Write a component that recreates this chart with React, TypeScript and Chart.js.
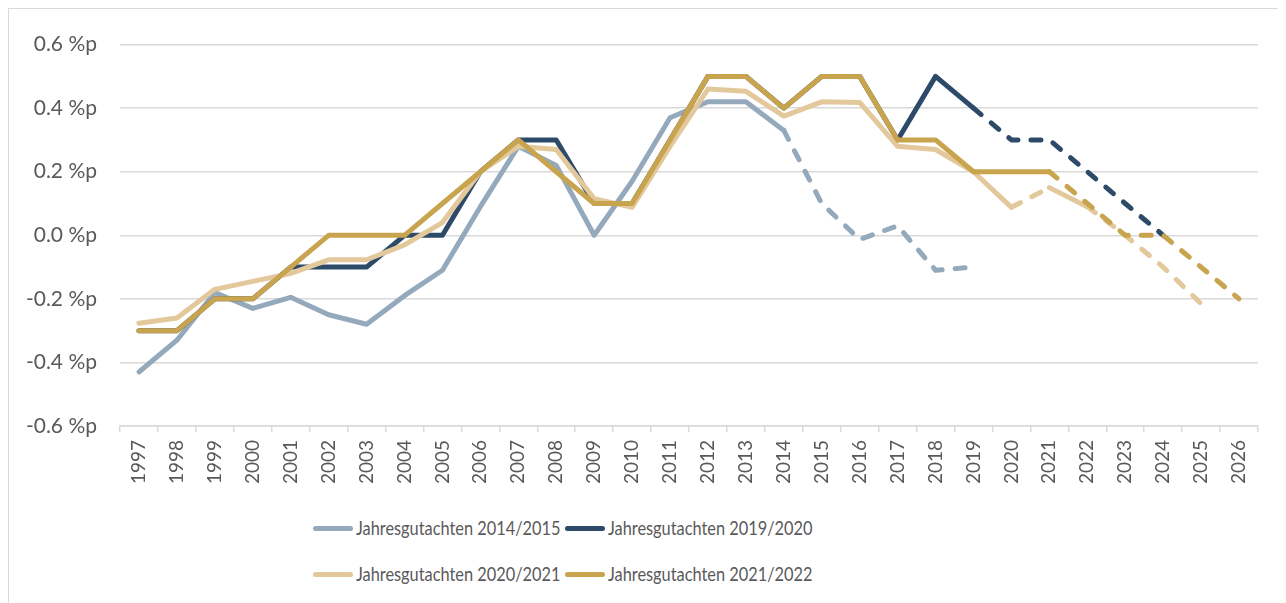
import React, { useEffect, useRef } from "react";
import { Chart, registerables } from "chart.js";

Chart.register(...registerables);

const years = [
  "1997","1998","1999","2000","2001","2002","2003","2004","2005","2006",
  "2007","2008","2009","2010","2011","2012","2013","2014","2015","2016",
  "2017","2018","2019","2020","2021","2022","2023","2024","2025","2026",
];

const jg2014 = [
  -0.43, -0.33, -0.18, -0.23, -0.195, -0.25, -0.28, -0.19, -0.11, 0.09,
  0.28, 0.22, 0.0, 0.17, 0.37, 0.42, 0.42, 0.33, 0.1, -0.013,
  0.03, -0.11, -0.1, null, null, null, null, null, null, null,
];

const jg2019 = [
  -0.3, -0.3, -0.2, -0.2, -0.1, -0.1, -0.1, 0.0, 0.0, 0.2,
  0.3, 0.3, 0.1, 0.1, 0.3, 0.5, 0.5, 0.4, 0.5, 0.5,
  0.3, 0.5, 0.4, 0.3, 0.3, 0.2, 0.1, 0.0, null, null,
];

const jg2020 = [
  -0.277, -0.26, -0.17, -0.145, -0.12, -0.077, -0.077, -0.03, 0.04, 0.2,
  0.28, 0.27, 0.115, 0.088, 0.28, 0.46, 0.453, 0.375, 0.42, 0.418,
  0.28, 0.27, 0.2, 0.088, 0.15, 0.09, 0.0, -0.1, -0.215, null,
];

const jg2021 = [
  -0.3, -0.3, -0.2, -0.2, -0.1, 0.0, 0.0, 0.0, 0.1, 0.2,
  0.3, 0.2, 0.1, 0.1, 0.3, 0.5, 0.5, 0.4, 0.5, 0.5,
  0.3, 0.3, 0.2, 0.2, 0.2, 0.1, 0.0, 0.0, -0.1, -0.2,
];

const seriesLabels = [
  "Jahresgutachten 2014/2015",
  "Jahresgutachten 2019/2020",
  "Jahresgutachten 2020/2021",
  "Jahresgutachten 2021/2022",
];

const colors = ["#94A9BC", "#2D4A68", "#E3C89B", "#C9A44F"];

// segment start indices from which the line is a forecast (dashed)
const DASH = [10, 13];
const isDashed = [
  (i: number) => i >= 17,
  (i: number) => i >= 22,
  (i: number) => i === 23 || i >= 25,
  (i: number) => i >= 24,
];

const FONT = "Lato, 'Open Sans', sans-serif";
const TEXT = "#595959";
const GRID = "#D9D9D9";

export default function App() {
  const ref = useRef<HTMLCanvasElement | null>(null);

  useEffect(() => {
    if (!ref.current) return;
    const all = [jg2014, jg2019, jg2020, jg2021];
    const chart = new Chart(ref.current, {
      type: "line",
      data: {
        labels: years,
        datasets: all.map((d, k) => ({
          label: seriesLabels[k],
          data: d,
          borderColor: colors[k],
          backgroundColor: colors[k],
          borderWidth: 5,
          borderCapStyle: "round",
          borderJoinStyle: "round",
          pointRadius: 0,
          pointHoverRadius: 0,
          tension: 0,
          spanGaps: false,
          order: 4 - k,
          segment: {
            borderDash: (ctx: any) => (isDashed[k](ctx.p0DataIndex) ? DASH : undefined),
          },
        })),
      },
      options: {
        responsive: false,
        animation: false,
        devicePixelRatio: 1,
        layout: { padding: { top: 35, right: 28, left: 0, bottom: 0 } },
        plugins: {
          legend: { display: false },
          tooltip: { enabled: false },
        },
        scales: {
          x: {
            type: "category",
            offset: true,
            afterFit: (s: any) => {
              s.height = 77;
            },
            grid: {
              drawOnChartArea: false,
              drawTicks: true,
              tickLength: 6,
              color: GRID,
              lineWidth: 1.5,
              offset: true,
            },
            border: { display: true, color: GRID, width: 1.5 },
            ticks: {
              autoSkip: false,
              maxRotation: 90,
              minRotation: 90,
              padding: 8,
              color: TEXT,
              font: { family: FONT, size: 19 },
            },
          },
          y: {
            min: -0.6,
            max: 0.6,
            afterFit: (s: any) => {
              s.width = 111;
            },
            grid: { color: GRID, lineWidth: 1.5, drawTicks: false },
            border: { display: false },
            ticks: {
              stepSize: 0.2,
              padding: 23,
              color: TEXT,
              font: { family: FONT, size: 21 },
              callback: (v: any) => {
                const n = Math.abs(Number(v)) < 1e-9 ? 0 : Number(v);
                return n.toFixed(1) + " %p";
              },
            },
          },
        },
      },
    } as any);
    return () => chart.destroy();
  }, []);

  const legendPos = [
    { x: 304, y: 519 },
    { x: 556, y: 519 },
    { x: 304, y: 565 },
    { x: 556, y: 565 },
  ];

  return (
    <div
      style={{
        position: "relative",
        width: 1279,
        height: 596,
        marginLeft: -1,
        marginTop: -1,
        borderTop: `2px solid ${GRID}`,
        borderLeft: `2px solid ${GRID}`,
        boxSizing: "border-box",
        fontFamily: FONT,
        overflow: "hidden",
      }}
    >
      <canvas
        ref={ref}
        width={1277}
        height={494}
        style={{ position: "absolute", left: 0, top: 0, width: 1277, height: 494 }}
      />
      {seriesLabels.map((lab, k) => (
        <div
          key={lab}
          style={{
            position: "absolute",
            left: legendPos[k].x,
            top: legendPos[k].y - 12,
            height: 24,
            display: "flex",
            alignItems: "center",
            whiteSpace: "nowrap",
          }}
        >
          <span
            style={{
              display: "inline-block",
              width: 40,
              height: 5,
              borderRadius: 3,
              background: colors[k],
              marginRight: 3,
            }}
          />
          <span
            style={{
              display: "inline-block",
              fontSize: 19,
              color: TEXT,
              lineHeight: "24px",
              transform: "scaleX(0.86)",
              transformOrigin: "left center",
            }}
          >
            {lab}
          </span>
        </div>
      ))}
    </div>
  );
}
